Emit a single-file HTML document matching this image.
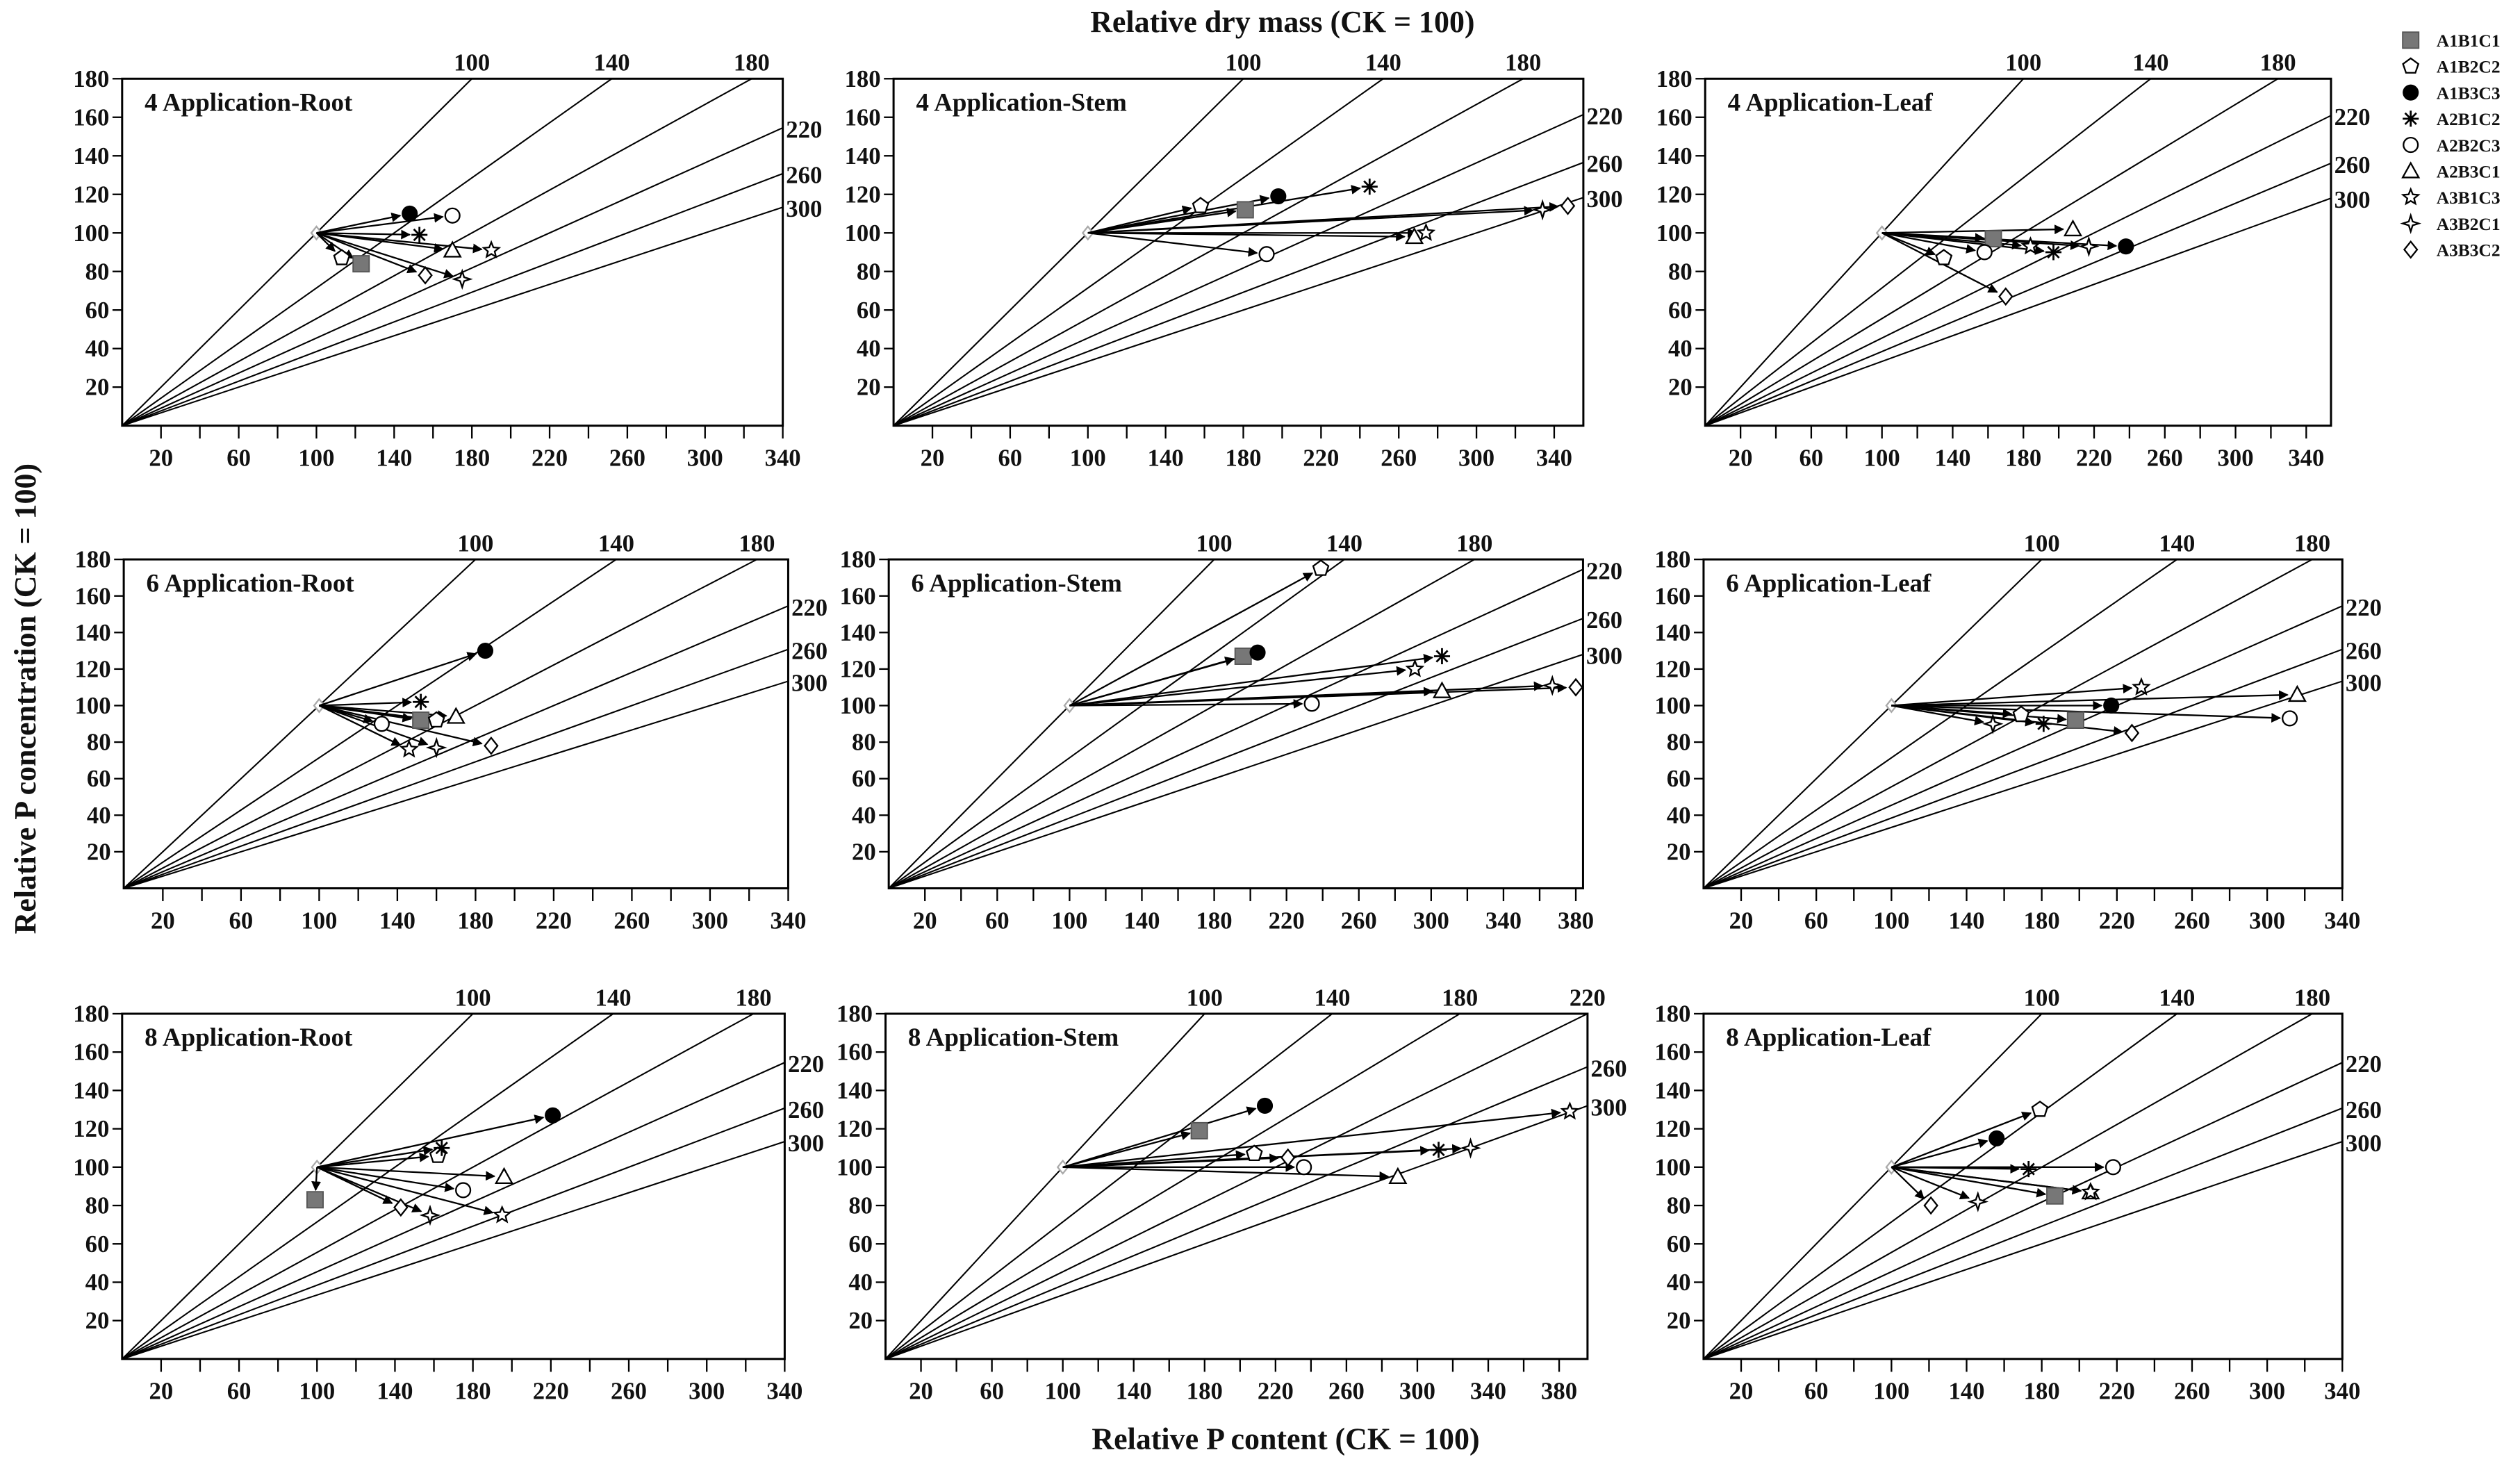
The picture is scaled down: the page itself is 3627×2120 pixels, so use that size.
<!DOCTYPE html>
<html><head><meta charset="utf-8"><style>
html,body{margin:0;padding:0;background:#fff;}
svg{display:block;}
text{font-family:"Liberation Serif","DejaVu Serif",serif;font-weight:bold;fill:#111;}
</style></head><body>
<svg id="fig" width="3627" height="2120" viewBox="0 0 1568 917" preserveAspectRatio="none" xmlns="http://www.w3.org/2000/svg">
<defs><marker id="ah" viewBox="0 0 10 10" refX="9" refY="5" markerWidth="6" markerHeight="6" orient="auto" markerUnits="userSpaceOnUse"><path d="M0,0 L10,5 L0,10 z" fill="#000"/></marker></defs>
<text x="798" y="20" font-size="19" text-anchor="middle">Relative dry mass (CK = 100)</text>
<text x="800" y="902" font-size="19" text-anchor="middle">Relative P content (CK = 100)</text>
<text x="22" y="435" font-size="19" text-anchor="middle" transform="rotate(-90 22 435)">Relative P concentration (CK = 100)</text>
<g id="legend"></g>
<g id="panels"></g>
</svg>
<script>
const treatments = ["A1B1C1","A1B2C2","A1B3C3","A2B1C2","A2B2C3","A2B3C1","A3B1C3","A3B2C1","A3B3C2"];
const shapes = ["square","pentagon","dot","asterisk","circle","triangle","star","star4","diamond"];
const panelTitles = ["4 Application-Root","4 Application-Stem","4 Application-Leaf","6 Application-Root","6 Application-Stem","6 Application-Leaf","8 Application-Root","8 Application-Stem","8 Application-Leaf"];
const isoMass = [100,140,180,220,260,300];
const yTicks = [20,40,60,80,100,120,140,160,180];
// relative P content (x) per panel, in treatment order
const contentP1 = [123,113,148,153,170,170,190,175,156];
const contentP2 = [181,158,198,245,192,268,274,334,347];
const contentP3 = [163,135,238,197,158,208,184,217,170];
const contentP4 = [152,160,185,152,132,170,146,160,188];
const contentP5 = [196,239,204,306,234,306,291,367,380];
const contentP6 = [198,169,217,181,312,316,233,154,228];
const contentP7 = [99,162,221,164,175,196,195,158,143];
const contentP8 = [177,208,214,312,236,289,386,330,227];
const contentP9 = [187,179,156,173,218,206,206,146,121];
// relative P concentration (y)
const concP1 = [84,87,110,99,109,91,91,76,78];
const concP2 = [112,114,119,124,89,98,100,112,114];
const concP3 = [97,87,93,90,90,102,93,93,67];
const concP4 = [92,92,130,102,90,94,76,77,78];
const concP5 = [127,175,129,127,101,108,120,111,110];
const concP6 = [92,95,100,90,93,106,110,90,85];
const concP7 = [83,106,127,110,88,95,75,75,79];
const concP8 = [119,107,132,109,100,95,129,110,105];
const concP9 = [85,130,115,99,100,87,87,82,80];
const contents = [contentP1,contentP2,contentP3,contentP4,contentP5,contentP6,contentP7,contentP8,contentP9];
const concs = [concP1,concP2,concP3,concP4,concP5,concP6,concP7,concP8,concP9];
const xTickLabelsA = [20,60,100,140,180,220,260,300,340];
const xTickLabelsB = [20,60,100,140,180,220,260,300,340,380];

// layout: origin px, px per unit x, px per unit y, xmax
const layout = [
 {ox:76,oy:265,sx:1.209,sy:1.2,xmax:340,lab:xTickLabelsA},
 {ox:556,oy:265,sx:1.209,sy:1.2,xmax:355,lab:xTickLabelsA},
 {ox:1061,oy:265,sx:1.1,sy:1.2,xmax:354,lab:xTickLabelsA},
 {ox:77,oy:553,sx:1.216,sy:1.1375,xmax:340,lab:xTickLabelsA},
 {ox:553,oy:553,sx:1.125,sy:1.1375,xmax:384,lab:xTickLabelsB},
 {ox:1060,oy:553,sx:1.169,sy:1.1375,xmax:340,lab:xTickLabelsA},
 {ox:76,oy:846,sx:1.2125,sy:1.194,xmax:340,lab:xTickLabelsA},
 {ox:551,oy:846,sx:1.103,sy:1.194,xmax:396,lab:xTickLabelsB},
 {ox:1060,oy:846,sx:1.169,sy:1.194,xmax:340,lab:xTickLabelsA}
];
const NS="http://www.w3.org/2000/svg";
function mk(tag,attrs,parent){const e=document.createElementNS(NS,tag);for(const k in attrs)e.setAttribute(k,attrs[k]);if(parent)parent.appendChild(e);return e;}
function marker(g,shape,cx,cy,r){
 let e;
 if(shape==="square"){e=mk("rect",{x:cx-r,y:cy-r,width:2*r,height:2*r,fill:"#777",stroke:"#555","stroke-width":0.8},g);}
 else if(shape==="dot"){e=mk("circle",{cx:cx,cy:cy,r:r,fill:"#000"},g);}
 else if(shape==="circle"){e=mk("circle",{cx:cx,cy:cy,r:r*0.9,fill:"#fff",stroke:"#000","stroke-width":1},g);}
 else if(shape==="pentagon"){let p=[];for(let i=0;i<5;i++){const a=-Math.PI/2+i*2*Math.PI/5;p.push((cx+r*Math.cos(a)).toFixed(1)+","+(cy+r*Math.sin(a)).toFixed(1));}e=mk("polygon",{points:p.join(" "),fill:"#fff",stroke:"#000","stroke-width":1},g);}
 else if(shape==="triangle"){e=mk("polygon",{points:`${cx},${cy-r} ${cx+r},${cy+r*0.8} ${cx-r},${cy+r*0.8}`,fill:"#fff",stroke:"#000","stroke-width":1},g);}
 else if(shape==="diamond"){e=mk("polygon",{points:`${cx},${cy-r} ${cx+r*0.8},${cy} ${cx},${cy+r} ${cx-r*0.8},${cy}`,fill:"#fff",stroke:"#000","stroke-width":1},g);}
 else if(shape==="star"){let p=[];for(let i=0;i<10;i++){const a=-Math.PI/2+i*Math.PI/5;const rr=i%2?r*0.45:r;p.push((cx+rr*Math.cos(a)).toFixed(1)+","+(cy+rr*Math.sin(a)).toFixed(1));}e=mk("polygon",{points:p.join(" "),fill:"#fff",stroke:"#000","stroke-width":1},g);}
 else if(shape==="star4"){let p=[];for(let i=0;i<8;i++){const a=-Math.PI/2+i*Math.PI/4;const rr=i%2?r*0.35:r;p.push((cx+rr*Math.cos(a)).toFixed(1)+","+(cy+rr*Math.sin(a)).toFixed(1));}e=mk("polygon",{points:p.join(" "),fill:"#fff",stroke:"#000","stroke-width":1},g);}
 else {e=mk("path",{d:`M${cx-r},${cy}H${cx+r}M${cx},${cy-r}V${cy+r}M${cx-r*0.7},${cy-r*0.7}L${cx+r*0.7},${cy+r*0.7}M${cx-r*0.7},${cy+r*0.7}L${cx+r*0.7},${cy-r*0.7}`,stroke:"#000","stroke-width":1.2,fill:"none"},g);}
 return e;
}
const root=document.getElementById("panels");
layout.forEach((L,pi)=>{
 const X=v=>L.ox+v*L.sx, Y=v=>L.oy-v*L.sy;
 const g=mk("g",{},root);
 
 
 // frame
 const fr=mk("rect",{x:X(0),y:Y(180),width:X(L.xmax)-X(0),height:Y(0)-Y(180),fill:"none",stroke:"#000","stroke-width":1.3},g);
 
 
 // y ticks
 yTicks.forEach(t=>{
  mk("line",{x1:X(0)-6,x2:X(0),y1:Y(t),y2:Y(t),stroke:"#000","stroke-width":1},g);
  const tx=mk("text",{x:X(0)-8,y:Y(t)+5,"font-size":15,"text-anchor":"end"},g);tx.textContent=t;
  
  
 });
 // x ticks every 20
 for(let v=20;v<=L.xmax+0.1;v+=20){mk("line",{x1:X(v),x2:X(v),y1:Y(0),y2:Y(0)+8,stroke:"#000","stroke-width":1},g);}
 L.lab.forEach(t=>{
  const tx=mk("text",{x:X(t),y:Y(0)+25,"font-size":15,"text-anchor":"middle"},g);tx.textContent=t;
  
  
 });
 // iso dry-mass lines
 isoMass.forEach(D=>{
  const xt=1.8*D; let ex,ey,lx,ly,anc;
  if(xt<=L.xmax){ex=xt;ey=180;lx=X(ex);ly=Y(180)-5;anc="middle";}
  else{ex=L.xmax;ey=100*L.xmax/D;lx=X(L.xmax)+2;ly=Y(ey)+6;anc="start";}
  const ln=mk("line",{x1:X(0),y1:Y(0),x2:X(ex),y2:Y(ey),stroke:"#000","stroke-width":0.9},g);
  
  
  const tx=mk("text",{x:lx,y:ly,"font-size":15,"text-anchor":anc},g);tx.textContent=D;
  
  
 });
 const tt=mk("text",{x:X(0)+14,y:Y(180)+20,"font-size":16},g);tt.textContent=panelTitles[pi];
 
 
 // CK point
 marker(g,"diamond",X(100),Y(100),4).setAttribute("stroke","#aaa");
 // arrows
 const cx=contents[pi], cy=concs[pi];
 treatments.forEach((tr,i)=>{
  const x1=X(100),y1=Y(100),x2=X(cx[i]),y2=Y(cy[i]);
  const dx=x2-x1,dy=y2-y1,d=Math.hypot(dx,dy)||1;
  const ax=x2-dx/d*6,ay=y2-dy/d*6;
  const a=mk("line",{x1:x1,y1:y1,x2:ax,y2:ay,stroke:"#000","stroke-width":1,"marker-end":"url(#ah)"},g);
  
  
 });
 treatments.forEach((tr,i)=>{
  const m=marker(g,shapes[i],X(cx[i]),Y(cy[i]),5);
  
  
 });
});
// legend
const lg=document.getElementById("legend");
treatments.forEach((tr,i)=>{
 const y=25+i*16.3;
 const m=marker(lg,shapes[i],1500,y,5);
 
 
 const t=mk("text",{x:1516,y:y+4,"font-size":11},lg);t.textContent=tr;
 
 
});
</script>
</body></html>
